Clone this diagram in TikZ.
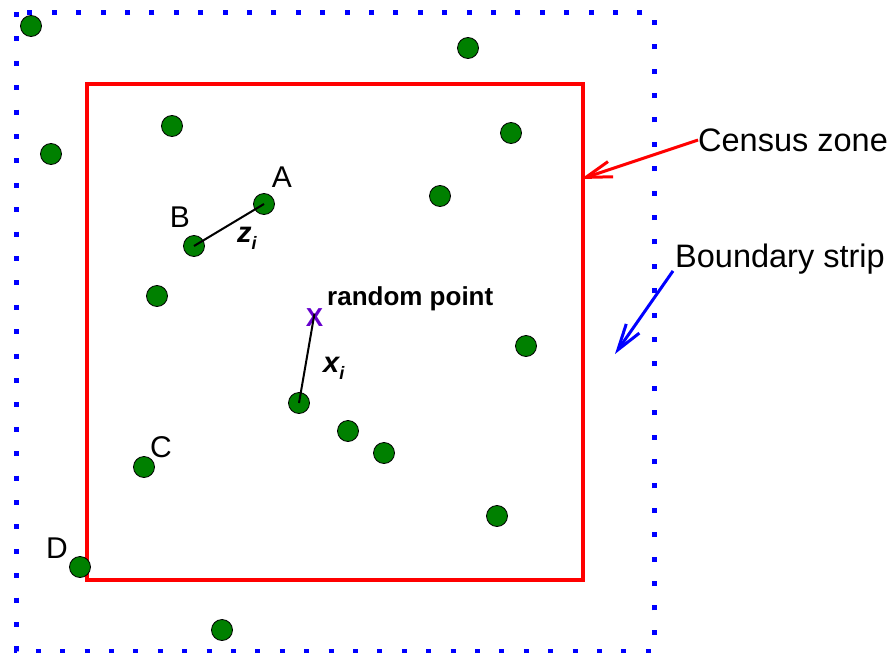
\documentclass[tikz,border=0pt]{standalone}
\usepackage{fontspec}
\setmainfont{Liberation Sans}
\usepackage{xcolor}
\usetikzlibrary{arrows.meta, positioning, calc}
\definecolor{zonered}{RGB}{255,0,0}
\definecolor{stripblue}{RGB}{0,0,255}
\definecolor{treegreen}{RGB}{0,128,0}
\definecolor{pointpurple}{RGB}{102,0,204}
\tikzset{
  treedot/.style={
    circle, draw=black, line width=0.8pt, fill=treegreen,
    minimum size=21pt, inner sep=0pt
  },
  ptlabel/.style={
    font=\fontsize{30}{34}\selectfont, inner sep=0pt
  },
  callout/.style={
    font=\fontsize{32.5}{38}\selectfont, inner sep=0pt
  },
  distlabel/.style={
    font=\fontsize{29}{32}\selectfont\bfseries\itshape, inner sep=0pt
  },
  distline/.style={line width=2pt, black},
  zonearrow/.style={
    -{Straight Barb[length=26pt, width=16pt]}, line width=3pt
  },
}
\newcommand{\subi}{{\fontsize{18}{18}\selectfont\raisebox{-7pt}{i}}}

\begin{document}
\begin{tikzpicture}[x=1pt, y=-1pt]
  \useasboundingbox (0,0) rectangle (892,653);

  % ── Boundary strip and census zone ─────────────────────────────
  \draw[stripblue, line width=5pt, dash pattern=on 5pt off 19.4pt]
    (16,12) rectangle (654,651);
  \draw[zonered, line width=4pt] (87,84) rectangle (583,580);

  % ── Trees ──────────────────────────────────────────────────────
  \foreach \name/\px/\py in {
      t1/31/26, t2/468/48, t3/172/126, t4/511/133, t5/51/154,
      t6/440/196, dotA/264/204, dotB/194/246, t7/157/296, t8/526/346,
      dotX/299/403, t9/348/431, t10/384/453, dotC/144/467,
      t11/497/516, dotD/80/567, t12/222/630}
    \node[treedot] (\name) at (\px,\py) {};

  % Tree letters
  \node[ptlabel] (labA) at (282,177) {A};
  \node[ptlabel] (labB) at (180,217) {B};
  \node[ptlabel] (labC) at (161,447) {C};
  \node[ptlabel] (labD) at (57,548) {D};

  % ── Distances ──────────────────────────────────────────────────
  \draw[distline] (dotB.center) -- (dotA.center);
  \node[distlabel, anchor=base west] (zlab) at (237,242) {z\subi};

  \node[font=\fontsize{26}{30}\selectfont\bfseries, text=pointpurple,
        inner sep=0pt] (rpoint) at (314.5,317.5) {X};
  \draw[distline] ($(rpoint.center)+(0,-4)$) -- (dotX.center);
  \node[font=\fontsize{26}{30}\selectfont\bfseries, inner sep=0pt,
        anchor=base west] (rlab) at (327,305) {random point};
  \node[distlabel, anchor=base west] (xlab) at (323,372) {x\subi};

  % ── Callouts ───────────────────────────────────────────────────
  \node[callout, anchor=west] (census) at (698,140) {Census zone};
  \coordinate (censustip) at (581,179);
  \draw[zonearrow, zonered] (census.west) -- (censustip);

  \node[callout, anchor=base west] (strip) at (675,267) {Boundary strip};
  \coordinate (striptip) at (615,354);
  \draw[zonearrow, stripblue] ($(strip.south west)+(-2,-3)$) -- (striptip);
\end{tikzpicture}
\end{document}
